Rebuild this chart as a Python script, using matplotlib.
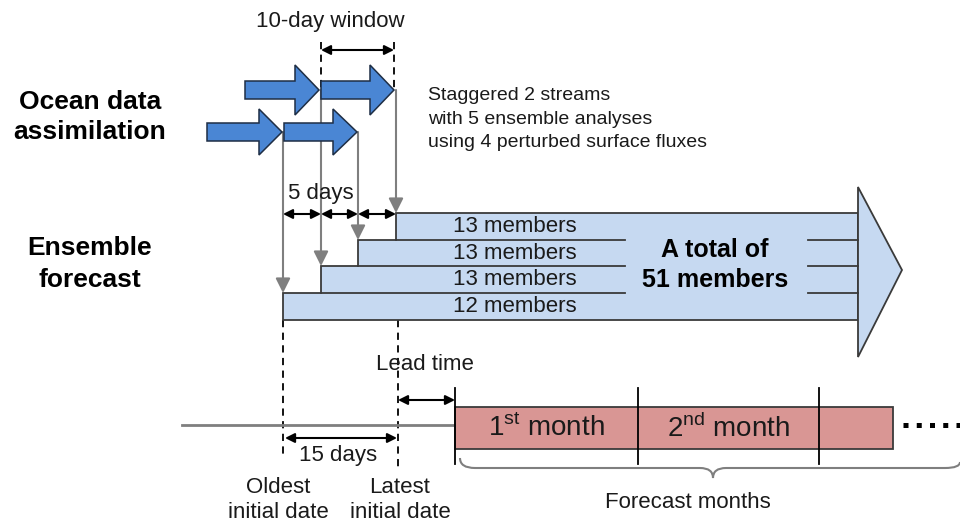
import matplotlib
matplotlib.use('Agg')
import matplotlib.pyplot as plt
from matplotlib.patches import Polygon, Rectangle, PathPatch
from matplotlib.path import Path

plt.rcParams['font.family'] = ['Liberation Sans', 'DejaVu Sans']
plt.rcParams['mathtext.fontset'] = 'custom'
plt.rcParams['mathtext.rm'] = 'Liberation Sans'

# diagram content
member_counts = [13, 13, 13, 12]
total_members = 51
window_days = 10
stagger_days = 5
spread_days = 15
month_labels = ['1$^{\\mathregular{st}}$ month', '2$^{\\mathregular{nd}}$ month', '']
stream_notes = ['Staggered 2 streams', 'with 5 ensemble analyses',
                'using 4 perturbed surface fluxes']

# layout in pixel units (y grows downward)
bar_x0 = [396, 358, 321, 283]
bar_top = [213, 240, 266, 293]
bar_h = 26.5
bar_x1 = 858
month_edges = [455, 638, 819, 893]

BLUE = '#4A86D4'
BLUE_EDGE = '#1E2E45'
LIGHT = '#C6D9F1'
RED = '#D99694'
GREY = '#7F7F7F'
TXT = '#1A1A1A'

fig = plt.figure(figsize=(9.6, 5.27), dpi=100)
ax = fig.add_axes([0, 0, 1, 1])
ax.set_xlim(0, 960)
ax.set_ylim(527, 0)
ax.axis('off')


def block_arrow(x0, xh, xt, yc, sh, hh):
    pts = [(x0, yc - sh / 2), (xh, yc - sh / 2), (xh, yc - hh / 2), (xt, yc),
           (xh, yc + hh / 2), (xh, yc + sh / 2), (x0, yc + sh / 2)]
    ax.add_patch(Polygon(pts, closed=True, fc=BLUE, ec=BLUE_EDGE, lw=1.1, zorder=3))


def dbl_arrow(xa, xb, y):
    ax.annotate('', xy=(xb, y), xytext=(xa, y),
                arrowprops=dict(arrowstyle='<|-|>', color='black', lw=1.5,
                                mutation_scale=14, shrinkA=0, shrinkB=0))


def down_arrow(x, ya, yb):
    ax.annotate('', xy=(x, yb), xytext=(x, ya),
                arrowprops=dict(arrowstyle='-|>', color=GREY, lw=1.5,
                                mutation_scale=22, shrinkA=0, shrinkB=0), zorder=2)


# ocean data assimilation arrows
block_arrow(245, 295, 319, 90, 18, 50)
block_arrow(321, 370, 394, 90, 18, 50)
block_arrow(207, 259, 282, 132, 18, 46)
block_arrow(284, 333, 357, 132, 18, 46)

# 10-day window
for x in [321, 394]:
    ax.plot([x, x], [42, 90], color='black', lw=1.3, ls=(0, (4, 3)))
dbl_arrow(321, 394, 50)
ax.text(330, 22, f'{window_days}-day window', fontsize=16, color=TXT,
        ha='center', va='center')

ax.text(90, 117, 'Ocean data\nassimilation', fontsize=19, fontweight='bold',
        ha='center', va='center', color='black', linespacing=1.35)
ax.text(428, 119, '\n'.join(stream_notes), fontsize=14, color=TXT,
        ha='left', va='center', linespacing=1.5)

# grey arrows down to the forecast start dates
down_arrow(283, 132, bar_top[3])
down_arrow(321, 90, bar_top[2])
down_arrow(358, 132, bar_top[1])
down_arrow(396, 90, bar_top[0])

# 5-day staggering
for xa, xb in zip(bar_x0[::-1][:-1], bar_x0[::-1][1:]):
    dbl_arrow(xa, xb, 214)
ax.text(321, 193, f'{stagger_days} days', fontsize=16, color=TXT,
        ha='center', va='center')

# ensemble forecast staircase + arrow head
bot = bar_top[-1] + bar_h
stair = [(bar_x0[0], bar_top[0]), (bar_x1, bar_top[0]), (bar_x1, bot), (bar_x0[3], bot)]
for i in range(3, 0, -1):
    stair += [(bar_x0[i], bar_top[i]), (bar_x0[i - 1], bar_top[i])]
ax.add_patch(Polygon(stair, closed=True, fc=LIGHT, ec='#3A3A3A', lw=1.3, zorder=3))
ax.add_patch(Polygon([(bar_x1, 187), (902, 270), (bar_x1, 357)], closed=True,
                     fc=LIGHT, ec='#3A3A3A', lw=1.3, zorder=3))
for i in range(1, 4):
    ax.plot([bar_x0[i - 1], 625], [bar_top[i]] * 2, color='#3A3A3A', lw=1.3, zorder=4)
    ax.plot([808, bar_x1], [bar_top[i]] * 2, color='#3A3A3A', lw=1.3, zorder=4)
for n, t in zip(member_counts, bar_top):
    ax.text(515, t + bar_h / 2, f'{n} members', fontsize=16, color=TXT,
            ha='center', va='center', zorder=5)
ax.text(715, 265, f'A total of\n{total_members} members', fontsize=18,
        fontweight='bold', ha='center', va='center', color='black',
        linespacing=1.3, zorder=5)
ax.text(90, 264, 'Ensemble\nforecast', fontsize=19, fontweight='bold',
        ha='center', va='center', color='black', linespacing=1.4)

# lower timeline
for x, y1 in [(283, 458), (398, 470)]:
    ax.plot([x, x], [bot, y1], color='black', lw=1.3, ls=(0, (4, 3)))
ax.plot([182, 455], [425, 425], color=GREY, lw=2)
dbl_arrow(398, 455, 400)
ax.text(425, 365, 'Lead time', fontsize=16, color=TXT, ha='center', va='center')
dbl_arrow(285, 397, 438)
ax.text(338, 456, f'{spread_days} days', fontsize=16, color=TXT, ha='center', va='center')
ax.text(278, 500, 'Oldest\ninitial date', fontsize=16, color=TXT,
        ha='center', va='center', linespacing=1.25)
ax.text(400, 500, 'Latest\ninitial date', fontsize=16, color=TXT,
        ha='center', va='center', linespacing=1.25)

# forecast months
ax.add_patch(Rectangle((month_edges[0], 407), month_edges[-1] - month_edges[0], 42,
                       fc=RED, ec='#3A3A3A', lw=1.3, zorder=3))
for x in month_edges[:-1]:
    ax.plot([x, x], [388, 464], color='black', lw=1.3, zorder=4)
for lab, xa, xb in zip(month_labels, month_edges[:-1], month_edges[1:]):
    ax.text((xa + xb) / 2, 428, lab, fontsize=20, color=TXT,
            ha='center', va='center', zorder=5)
ax.plot([903, 960], [425, 425], color='black', lw=3.6, ls=(0, (1, 1.65)))

# brace
verts = [(460, 458), (460, 468), (475, 468), (700, 468), (713, 468), (713, 478),
         (713, 468), (726, 468), (945, 468), (960, 468), (960, 462)]
codes = [Path.MOVETO, Path.CURVE3, Path.CURVE3, Path.LINETO, Path.CURVE3, Path.CURVE3,
         Path.CURVE3, Path.CURVE3, Path.LINETO, Path.CURVE3, Path.CURVE3]
ax.add_patch(PathPatch(Path(verts, codes), fc='none', ec=GREY, lw=1.5))
ax.text(688, 502, 'Forecast months', fontsize=16, color=TXT, ha='center', va='center')

fig.savefig('out.png', dpi=100)
